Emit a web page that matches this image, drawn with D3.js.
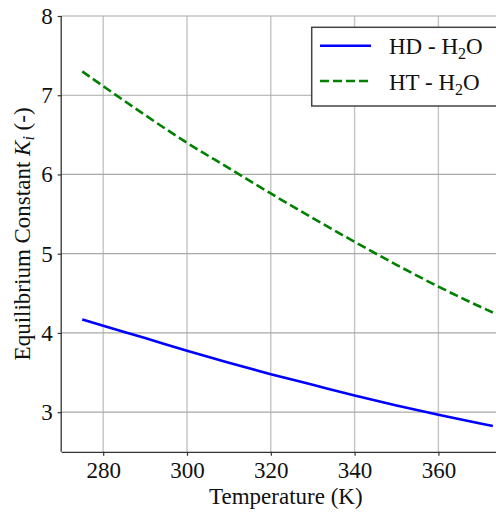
<!DOCTYPE html>
<html lang="en">
<head>
<meta charset="utf-8">
<title>Equilibrium constant</title>
<script src="https://d3js.org/d3.v7.min.js"></script>
<style>
body { margin: 0; background: #fff; }
svg { font-family: "Liberation Serif", "Times New Roman", serif; }
.grid-h { stroke: #a8a8a8; stroke-width: 1.2; }
.grid-v { stroke: #c4c4c4; stroke-width: 1.4; }
</style>
</head>
<body>
<div id="chart"></div>
<script>
// temperatures (K)
var temps = [275, 280, 290, 300, 310, 320, 330, 340, 350, 360, 370, 373];
// HD - H2O
var hdValues = [4.17, 4.09, 3.935, 3.775, 3.625, 3.48, 3.345, 3.21, 3.085, 2.968, 2.858, 2.826];
// HT - H2O
var htValues = [7.30, 7.115, 6.75, 6.40, 6.08, 5.76, 5.45, 5.15, 4.86, 4.585, 4.33, 4.258];

var xTicks = [280, 300, 320, 340, 360];
var yTicks = [3, 4, 5, 6, 7, 8];

var series = [
  { name: "HD - H", sub: "2", tail: "O", values: hdValues, color: "#0000ff", dash: null },
  { name: "HT - H", sub: "2", tail: "O", values: htValues, color: "#008000", dash: "9,4" }
];

var w = 496, h = 513;
var plotLeft = 61.7, plotTop = 16, plotBottom = 451.8;

var svg = d3.select("#chart").append("svg")
  .attr("width", w)
  .attr("height", h);

// the right part of the axes is cut off in the original figure
var x = d3.scaleLinear().domain([270.1, 377.9]).range([plotLeft, 513.4]);
var y = d3.scaleLinear().domain([2.5, 8]).range([plotBottom, plotTop]);

// grid
svg.selectAll(".grid-v").data(xTicks).enter().append("line")
  .attr("class", "grid-v")
  .attr("x1", d => x(d)).attr("x2", d => x(d))
  .attr("y1", plotTop).attr("y2", plotBottom);

svg.selectAll(".grid-h").data(yTicks).enter().append("line")
  .attr("class", "grid-h")
  .attr("x1", plotLeft).attr("x2", w)
  .attr("y1", d => y(d)).attr("y2", d => y(d));

// axes
var xAxis = d3.axisBottom(x).tickValues(xTicks).tickFormat(d3.format("d")).tickSize(4).tickPadding(6);
var yAxis = d3.axisLeft(y).tickValues(yTicks).tickFormat(d3.format("d")).tickSize(4).tickPadding(5);

var gx = svg.append("g").attr("transform", "translate(0," + plotBottom + ")").call(xAxis);
var gy = svg.append("g").attr("transform", "translate(" + plotLeft + ",0)").call(yAxis);

[gx, gy].forEach(function(g) {
  g.select(".domain").attr("stroke", "#333").attr("stroke-width", 1.3);
  g.selectAll(".tick line").attr("stroke", "#333").attr("stroke-width", 1.2);
  g.selectAll(".tick text")
    .style("font-family", "'Liberation Serif', serif")
    .style("font-size", "23px")
    .attr("fill", "#111");
});
gx.select(".domain").attr("d", "M" + plotLeft + ",0.5H" + w);
gy.select(".domain").attr("d", "M-0.5," + plotTop + "V" + plotBottom);

// lines
var line = d3.line()
  .curve(d3.curveMonotoneX)
  .x((d, i) => x(temps[i]))
  .y(d => y(d));

series.forEach(function(s) {
  svg.append("path")
    .datum(s.values)
    .attr("fill", "none")
    .attr("stroke", s.color)
    .attr("stroke-width", 2.6)
    .attr("stroke-dasharray", s.dash)
    .attr("d", line);
});

// legend
var lg = svg.append("g");
lg.append("rect")
  .attr("x", 311.7).attr("y", 27.3)
  .attr("width", 220).attr("height", 78.7)
  .attr("fill", "#fff")
  .attr("stroke", "#444")
  .attr("stroke-width", 1.5);

series.forEach(function(s, i) {
  var ly = 45.7 + i * 35.3;
  lg.append("line")
    .attr("x1", 320).attr("x2", 371)
    .attr("y1", ly).attr("y2", ly)
    .attr("stroke", s.color)
    .attr("stroke-width", 2.6)
    .attr("stroke-dasharray", s.dash);
  var t = lg.append("text")
    .attr("x", 389).attr("y", ly + 8.5)
    .style("font-size", "23px")
    .attr("fill", "#111");
  t.append("tspan").text(s.name);
  t.append("tspan").attr("dy", 5).style("font-size", "16px").text(s.sub);
  t.append("tspan").attr("dy", -5).text(s.tail);
});

// axis labels
svg.append("text")
  .attr("x", (plotLeft + w) / 2 + 7)
  .attr("y", 504)
  .attr("text-anchor", "middle")
  .style("font-size", "23px")
  .attr("fill", "#111")
  .text("Temperature (K)");

var yl = svg.append("text")
  .attr("transform", "translate(30," + ((plotTop + plotBottom) / 2) + ") rotate(-90)")
  .attr("text-anchor", "middle")
  .style("font-size", "23px")
  .attr("fill", "#111");
yl.append("tspan").text("Equilibrium Constant ");
yl.append("tspan").style("font-style", "italic").text("K");
yl.append("tspan").style("font-style", "italic").style("font-size", "16px").attr("dy", 4).text("i");
yl.append("tspan").attr("dy", -4).text(" (-)");
</script>
</body>
</html>
